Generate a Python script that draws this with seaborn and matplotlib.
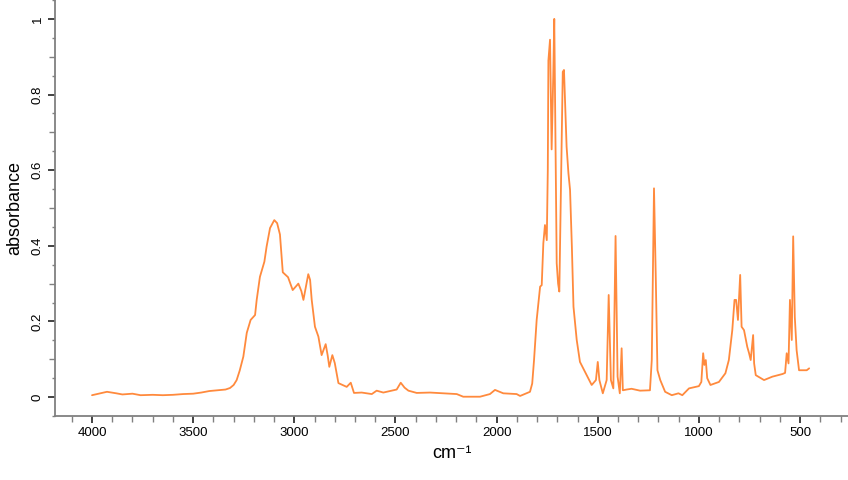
import numpy as np
import pandas as pd
import matplotlib
matplotlib.use("Agg")
import matplotlib.pyplot as plt
import matplotlib.ticker as mticker
import seaborn as sns

# ==== Spectrum data ====
wavenumber = [
    4000, 3960, 3926, 3880, 3850, 3800, 3760, 3700, 3650, 3600, 3550, 3500,
    3460, 3420, 3380, 3340, 3318, 3300, 3285, 3270, 3252, 3235, 3216, 3194,
    3186, 3170, 3148, 3137, 3120, 3099, 3085, 3071, 3057, 3031, 3008, 2980,
    2965, 2955, 2940, 2931, 2922, 2914, 2898, 2881, 2865, 2845, 2835, 2827,
    2812, 2800, 2782, 2741, 2721, 2705, 2667, 2617, 2593, 2560, 2494, 2474,
    2455, 2436, 2395, 2329, 2264, 2197, 2165, 2082, 2033, 2008, 1985, 1967,
    1901, 1884, 1835, 1824, 1815, 1802, 1785, 1777, 1769, 1761, 1752, 1747,
    1744, 1736, 1728, 1720, 1715, 1706, 1703, 1696, 1690, 1682, 1673, 1667,
    1654, 1645, 1637, 1628, 1620, 1604, 1588, 1563, 1530, 1509, 1500, 1492,
    1475, 1456, 1446, 1435, 1423, 1412, 1402, 1391, 1382, 1376, 1357, 1333,
    1291, 1242, 1233, 1228, 1222, 1213, 1205, 1191, 1167, 1134, 1101, 1082,
    1049, 1000, 988, 979, 973, 966, 959, 943, 901, 869, 852, 835,
    824, 816, 807, 796, 789, 777, 761, 752, 744, 732, 727, 719,
    678, 637, 587, 574, 566, 557, 550, 541, 534, 526, 517, 505,
    467, 455,
]
absorbance = [
    0.005, 0.010, 0.014, 0.010, 0.007, 0.009, 0.005, 0.006, 0.005, 0.006, 0.008, 0.009,
    0.012, 0.016, 0.018, 0.020, 0.024, 0.032, 0.045, 0.070, 0.107, 0.170, 0.204, 0.217,
    0.257, 0.318, 0.358, 0.398, 0.447, 0.468, 0.460, 0.430, 0.330, 0.317, 0.283, 0.300,
    0.280, 0.257, 0.300, 0.325, 0.310, 0.257, 0.186, 0.160, 0.111, 0.140, 0.110, 0.080,
    0.111, 0.090, 0.037, 0.027, 0.038, 0.011, 0.012, 0.008, 0.017, 0.012, 0.020, 0.038,
    0.025, 0.017, 0.011, 0.012, 0.010, 0.008, 0.001, 0.001, 0.008, 0.019, 0.014, 0.010,
    0.008, 0.003, 0.014, 0.036, 0.098, 0.204, 0.292, 0.296, 0.407, 0.455, 0.415, 0.600,
    0.890, 0.945, 0.655, 0.850, 1.000, 0.520, 0.354, 0.300, 0.279, 0.550, 0.860, 0.865,
    0.662, 0.592, 0.548, 0.398, 0.239, 0.151, 0.093, 0.067, 0.032, 0.045, 0.093, 0.045,
    0.010, 0.045, 0.270, 0.045, 0.023, 0.426, 0.054, 0.010, 0.129, 0.018, 0.020, 0.022,
    0.017, 0.018, 0.098, 0.310, 0.552, 0.310, 0.071, 0.045, 0.014, 0.005, 0.010, 0.005,
    0.023, 0.029, 0.040, 0.116, 0.085, 0.098, 0.050, 0.032, 0.040, 0.063, 0.098, 0.177,
    0.257, 0.257, 0.204, 0.323, 0.186, 0.177, 0.133, 0.116, 0.098, 0.164, 0.089, 0.058,
    0.045, 0.054, 0.061, 0.064, 0.116, 0.089, 0.257, 0.151, 0.425, 0.212, 0.124, 0.071,
    0.071, 0.076,
]

df = pd.DataFrame({"wavenumber": wavenumber, "absorbance": absorbance})

# ==== Plot ====
sns.set_style("ticks")
plt.rcParams["font.family"] = ["Liberation Sans", "DejaVu Sans"]
plt.rcParams["text.color"] = "black"
plt.rcParams["axes.labelcolor"] = "black"
plt.rcParams["xtick.labelcolor"] = "black"
plt.rcParams["ytick.labelcolor"] = "black"

fig = plt.figure(figsize=(8.48, 4.8), dpi=100)
ax = fig.add_axes([55 / 848, 64 / 480, 793 / 848, 416 / 480])

sns.lineplot(data=df, x="wavenumber", y="absorbance", estimator=None,
             color="#ff8a3d", linewidth=1.3, ax=ax)

ax.set_xlim(4183, 263)
ax.set_ylim(-0.05, 1.05)

ax.xaxis.set_major_locator(mticker.MultipleLocator(500))
ax.xaxis.set_minor_locator(mticker.MultipleLocator(100))
ax.xaxis.set_major_formatter(mticker.FuncFormatter(lambda v, p: f"{v:g}"))
ax.yaxis.set_major_locator(mticker.MultipleLocator(0.2))
ax.yaxis.set_minor_locator(mticker.MultipleLocator(0.1))
ax.yaxis.set_major_formatter(mticker.FuncFormatter(lambda v, p: f"{v:g}"))

for s in ["top", "right"]:
    ax.spines[s].set_visible(False)
for s in ["left", "bottom"]:
    ax.spines[s].set_color("#808080")
    ax.spines[s].set_linewidth(1.3)

ax.tick_params(which="major", length=5, width=1.2, color="#222222",
               labelsize=9.5, labelcolor="black", pad=3)
ax.tick_params(which="minor", length=4, width=1.0, color="#808080")
for lab in ax.get_yticklabels():
    lab.set_rotation(90)
    lab.set_va("center")

# extra small ticks on the y axis every 0.05
sec = ax.secondary_yaxis("left")
sec.set_yticks(np.arange(-0.05, 1.06, 0.1))
sec.tick_params(length=2, width=1.0, color="#808080", labelleft=False)
sec.spines["left"].set_visible(False)

ax.set_xlabel("cm\u207b\u00b9", fontsize=13, labelpad=4, color="black")
ax.set_ylabel("absorbance", fontsize=13, labelpad=6, color="black")

plt.savefig("out.png", dpi=100)
